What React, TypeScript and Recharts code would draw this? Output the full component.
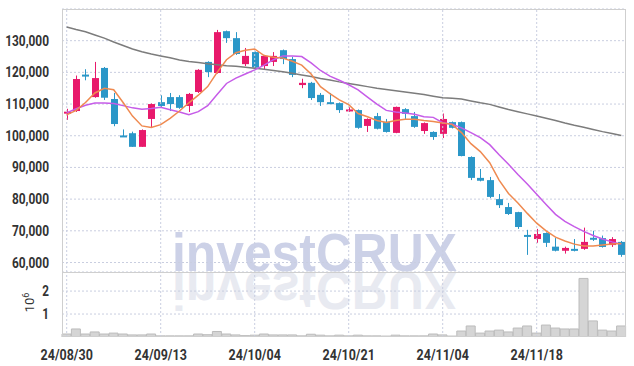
import { ComposedChart, Bar, Line, XAxis, YAxis, CartesianGrid, ReferenceLine } from 'recharts';

const dates = [
  '24/08/30', '24/09/02', '24/09/03', '24/09/04', '24/09/05', '24/09/06', '24/09/09', '24/09/10', '24/09/11', '24/09/12',
  '24/09/13', '24/09/19', '24/09/20', '24/09/23', '24/09/24', '24/09/25', '24/09/26', '24/09/27', '24/09/30', '24/10/02',
  '24/10/04', '24/10/07', '24/10/08', '24/10/10', '24/10/11', '24/10/14', '24/10/15', '24/10/16', '24/10/17', '24/10/18',
  '24/10/21', '24/10/22', '24/10/23', '24/10/24', '24/10/25', '24/10/28', '24/10/29', '24/10/30', '24/10/31', '24/11/01',
  '24/11/04', '24/11/05', '24/11/06', '24/11/07', '24/11/08', '24/11/11', '24/11/12', '24/11/13', '24/11/14', '24/11/15',
  '24/11/18', '24/11/19', '24/11/20', '24/11/21', '24/11/22', '24/11/25', '24/11/26', '24/11/27', '24/11/28', '24/11/29',
];

const opens = [
  107300, 107800, 119300, 112200, 121400, 111600, 100100, 100800, 96500, 105300,
  110600, 112200, 112200, 109400, 113800, 123300, 119800, 133000, 130800, 122600,
  126400, 122000, 123300, 127000, 124200, 116000, 116700, 112900, 110600, 110300,
  108000, 108100, 103100, 106200, 104400, 100900, 108400, 106200, 101500, 101200,
  100600, 104300, 104300, 93300, 86700, 86000, 80000, 77500, 75900, 68700,
  67400, 69300, 65000, 63700, 64300, 64300, 67800, 67700, 65500, 66500,
];
const highs = [
  108500, 119000, 121000, 123300, 121700, 113500, 102000, 101300, 102000, 110200,
  112800, 113500, 112800, 113500, 121000, 123500, 133400, 133200, 132700, 127700,
  126600, 125500, 126400, 127200, 124900, 118000, 117000, 113500, 113500, 110500,
  109000, 108300, 105500, 107200, 105300, 109200, 108700, 107500, 104200, 101400,
  107000, 104500, 104500, 93500, 89500, 87000, 81600, 78800, 76000, 70300,
  70600, 69500, 67700, 65000, 67400, 71000, 70000, 68500, 68000, 66800,
];
const lows = [
  105000, 107500, 117500, 112000, 111300, 103000, 99600, 96500, 96500, 102500,
  109000, 107800, 108500, 107500, 113500, 118500, 119600, 129300, 125500, 122000,
  121000, 121000, 122000, 122600, 118500, 115000, 111300, 109400, 110000, 107200,
  107500, 102200, 101200, 102000, 101000, 100800, 105300, 102500, 100600, 98700,
  99300, 102300, 93500, 86000, 85600, 80300, 77200, 75000, 70600, 62400,
  66200, 64900, 63500, 62800, 63500, 64000, 66800, 64700, 64900, 61800,
];
const closes = [
  107600, 117900, 118900, 118200, 112000, 103700, 99700, 96500, 101800, 110000,
  109400, 110000, 108800, 113200, 120800, 120100, 132700, 130800, 125800, 125200,
  121500, 125200, 125200, 124200, 119200, 116700, 111900, 110600, 110200, 108100,
  108300, 102500, 105300, 102200, 101200, 109100, 106900, 102800, 104000, 99600,
  105300, 102500, 93600, 86700, 85800, 80700, 78100, 75300, 71200, 68100,
  69000, 66200, 63700, 64600, 63700, 66500, 67200, 64900, 67400, 62400,
];

// moving averages
const ma5 = [
  106600, 108000, 110500, 113500, 115000, 114500, 110500, 106200, 103100, 102600,
  103500, 105500, 107800, 110400, 112800, 115500, 120000, 124000, 126200, 127000,
  127400, 125300, 124800, 124500, 123500, 122300, 119500, 115500, 113300, 111300,
  109800, 107000, 106000, 104800, 104200, 104800, 105200, 105200, 104800, 104500,
  104000, 103600, 101000, 97500, 95000, 91500, 86000, 81800, 78800, 75500,
  72400, 70000, 68000, 66800, 65800, 65200, 65200, 65500, 65800, 66000,
];
const ma20 = [
  107200, 108500, 109600, 110300, 110300, 110200, 109500, 108800, 108400, 108600,
  109000, 108200, 107500, 106600, 107600, 109500, 113000, 116500, 118200, 119500,
  120800, 122300, 124000, 125200, 125200, 125000, 123000, 120600, 118800, 117500,
  116100, 114500, 112200, 110000, 108000, 107500, 107200, 106800, 106000, 105800,
  104100, 103600, 102500, 101000, 99400, 97200, 94000, 91000, 87800, 84800,
  81500, 78300, 75200, 73000, 71300, 69800, 68500, 67400, 66500, 65800,
];
const ma60 = [
  134300, 133500, 132800, 131800, 130800, 129600, 128500, 127400, 126500, 125800,
  125200, 124600, 123900, 123400, 123100, 122700, 122400, 122100, 121900, 121600,
  121300, 121000, 120600, 120200, 119700, 119200, 118700, 118100, 117600, 117000,
  116500, 116000, 115500, 115000, 114600, 114200, 113800, 113400, 113000, 112500,
  112000, 111800, 111600, 111000, 110400, 109900, 109100, 108300, 107600, 106900,
  106200, 105500, 104800, 104000, 103300, 102700, 102000, 101300, 100700, 100100,
];
const volumes = [
  130000, 350000, 130000, 220000, 130000, 170000, 130000, 90000, 90000, 130000,
  50000, 50000, 50000, 50000, 130000, 100000, 240000, 130000, 90000, 60000,
  80000, 130000, 90000, 90000, 90000, 50000, 120000, 80000, 50000, 80000,
  50000, 80000, 50000, 50000, 40000, 80000, 50000, 50000, 50000, 130000,
  90000, 40000, 260000, 480000, 170000, 260000, 300000, 220000, 390000, 480000,
  170000, 520000, 390000, 350000, 350000, 2550000, 700000, 300000, 260000, 480000,
];

const priceTicks = [60000, 70000, 80000, 90000, 100000, 110000, 120000, 130000];
const volumeTicks = [1000000, 2000000];
const labelIdx = [0, 10, 20, 30, 40, 50];

const data = dates.map((date, i) => ({
  date,
  open: opens[i],
  high: highs[i],
  low: lows[i],
  close: closes[i],
  ma5: ma5[i],
  ma20: ma20[i],
  ma60: ma60[i],
  volume: volumes[i],
}));

const RED = '#e8196b';
const BLUE = '#2b97c8';
const GRID = '#c9cee0';
const FONT = "Roboto, 'DejaVu Sans', sans-serif";

// squeeze the labels so they look like the narrow font of the original
const textWidth = (s: string) =>
  s.split('').reduce((w, ch) => w + (ch === ',' ? 3.6 : ch === '/' ? 6 : 6.7), 0);

const Tick = (props: any) => {
  const { x, y, payload, textAnchor, verticalAnchor, fmt } = props;
  const s = fmt ? fmt(payload.value) : String(payload.value);
  const dy = verticalAnchor === 'start' ? '0.71em' : '0.36em';
  return (
    <text
      x={x}
      y={y}
      dy={dy}
      textAnchor={textAnchor}
      fontFamily={FONT}
      fontSize={14}
      fontWeight={700}
      fill="#333"
      textLength={textWidth(s)}
      lengthAdjust="spacingAndGlyphs"
    >
      {s}
    </text>
  );
};

const Candle = (props: any) => {
  const { x, y, width, height, payload } = props;
  const { open, close, high, low } = payload;
  const top = Math.min(y, y + height);
  const bottom = Math.max(y, y + height);
  const k = (bottom - top) / (high - low || 1);
  const py = (v: number) => top + (high - v) * k;
  const color = close >= open ? RED : BLUE;
  const cx = Math.round(x + width / 2) + 0.5;
  const bTop = py(Math.max(open, close));
  const bH = Math.max(2, Math.abs(py(open) - py(close)));
  return (
    <g>
      <line x1={cx} x2={cx} y1={top} y2={bottom} stroke={color} strokeWidth={1} />
      <rect x={cx - 3.5} y={bTop} width={7} height={bH} fill={color} />
    </g>
  );
};

const VolLabel = (props: any) => {
  const vb = props.viewBox || { x: 0, y: 0, height: 0 };
  const cx = 34;
  const cy = vb.y + vb.height / 2 - 2;
  return (
    <text x={cx} y={cy} transform={`rotate(-90 ${cx} ${cy})`} textAnchor="middle" fontFamily={FONT} fontSize={13} fill="#333">
      10<tspan dy={-5} fontSize={9}>6</tspan>
    </text>
  );
};

export default function App() {
  return (
    <div style={{ position: 'absolute', left: 0, top: 0, width: 634, height: 366, background: '#fff', overflow: 'hidden' }}>
      <svg width={634} height={366} style={{ position: 'absolute', left: 0, top: 0 }}>
        <text x={172} y={271} fontFamily="'Liberation Sans', Arial, sans-serif" fontWeight="bold" fontSize={53} fill="#ccd1e7" textLength={285} lengthAdjust="spacingAndGlyphs">
          investCRUX
        </text>
        <text x={172} y={271} transform="translate(0 543) scale(1 -1)" fontFamily="'Liberation Sans', Arial, sans-serif" fontWeight="bold" fontSize={53} fill="#e8eaf1" textLength={285} lengthAdjust="spacingAndGlyphs">
          investCRUX
        </text>
      </svg>

      <div style={{ position: 'absolute', left: 0, top: 0 }}>
        <ComposedChart width={634} height={273} data={data} margin={{ top: 9, right: 8, bottom: 1, left: 0 }} barCategoryGap={0}>
          <CartesianGrid vertical={false} stroke={GRID} strokeDasharray="2 2" />
          <XAxis dataKey="date" hide />
          <YAxis
            domain={[57000, 140000]}
            ticks={priceTicks}
            interval={0}
            allowDataOverflow
            width={62}
            axisLine={false}
            tickLine={false}
            tickMargin={7}
            tick={(p: any) => <Tick {...p} fmt={(v: number) => v.toLocaleString('en-US')} />}
          />
          {labelIdx.map((i) => (
            <ReferenceLine key={i} x={dates[i]} stroke={GRID} strokeDasharray="2 2" />
          ))}
          <Bar dataKey={(d: any) => [d.low, d.high]} shape={Candle} isAnimationActive={false} />
          <Line dataKey="ma60" stroke="#7c7c7c" strokeWidth={1.5} dot={false} isAnimationActive={false} />
          <Line dataKey="ma20" stroke="#c65ce8" strokeWidth={1.5} dot={false} isAnimationActive={false} />
          <Line dataKey="ma5" stroke="#ef8a50" strokeWidth={1.5} dot={false} isAnimationActive={false} />
        </ComposedChart>
      </div>

      <div style={{ position: 'absolute', left: 0, top: 272 }}>
        <ComposedChart width={634} height={94} data={data} margin={{ top: 0, right: 8, bottom: 0, left: 0 }} barCategoryGap={0}>
          <CartesianGrid vertical={false} horizontalValues={volumeTicks} stroke={GRID} strokeDasharray="2 2" />
          <XAxis
            dataKey="date"
            interval={9}
            height={29}
            axisLine={false}
            tickLine={false}
            tickMargin={7}
            tick={(p: any) => <Tick {...p} />}
          />
          <YAxis
            domain={[0, 2830000]}
            ticks={volumeTicks}
            interval={0}
            allowDataOverflow
            width={62}
            axisLine={false}
            tickLine={false}
            tickMargin={7}
            tick={(p: any) => <Tick {...p} fmt={(v: number) => String(v / 1000000)} />}
            label={{ content: <VolLabel /> }}
          />
          {labelIdx.map((i) => (
            <ReferenceLine key={i} x={dates[i]} stroke={GRID} strokeDasharray="2 2" />
          ))}
          <Bar dataKey="volume" fill="#d5d5d5" stroke="#bcbcbc" strokeWidth={1} isAnimationActive={false} />
        </ComposedChart>
      </div>

      <div style={{ position: 'absolute', left: 62, top: 9, width: 564, height: 328, border: '1px solid #cfcfcf', boxSizing: 'border-box', pointerEvents: 'none' }} />
      <div style={{ position: 'absolute', left: 62, top: 272, width: 564, height: 1, background: '#cfcfcf' }} />
    </div>
  );
}
